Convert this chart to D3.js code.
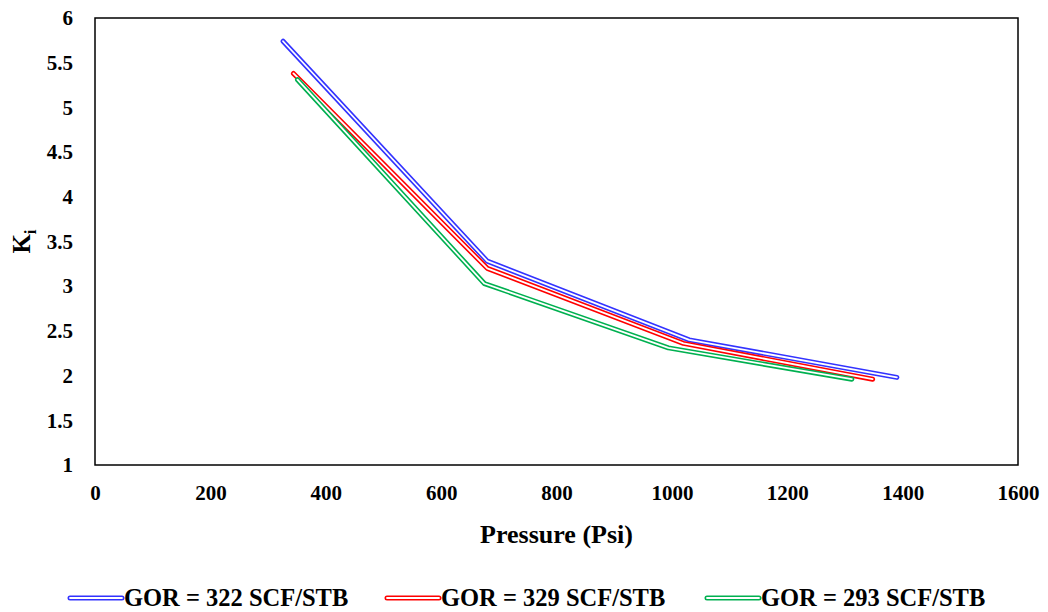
<!DOCTYPE html>
<html>
<head>
<meta charset="utf-8">
<script src="https://cdn.jsdelivr.net/npm/d3@7"></script>
<style>
  body { margin: 0; background: #fff; }
</style>
</head>
<body>
<div class="chart"></div>
<script>
// data
let pressure322 = [326, 680, 1030, 1390];
let ki322 = [5.74, 3.28, 2.40, 1.98];
let pressure329 = [344, 680, 1020, 1348];
let ki329 = [5.38, 3.20, 2.36, 1.96];
let pressure293 = [351, 675, 994, 1312];
let ki293 = [5.31, 3.03, 2.31, 1.96];

let seriesNames = ["GOR = 322 SCF/STB", "GOR = 329 SCF/STB", "GOR = 293 SCF/STB"];
let seriesColors = ["#3333ff", "#ff0000", "#00b050"];
let xTicks = [0, 200, 400, 600, 800, 1000, 1200, 1400, 1600];
let yTicks = [1, 1.5, 2, 2.5, 3, 3.5, 4, 4.5, 5, 5.5, 6];

let series = [
  pressure322.map((p, i) => ({p: p, k: ki322[i]})),
  pressure329.map((p, i) => ({p: p, k: ki329[i]})),
  pressure293.map((p, i) => ({p: p, k: ki293[i]}))
];

let font = "'Liberation Serif', 'Times New Roman', serif";

let margin = {top: 18, right: 30, bottom: 147, left: 95},
  width = 1048 - margin.left - margin.right,
  height = 612 - margin.top - margin.bottom;

let svg = d3.select(".chart")
  .append("svg")
  .attr("width", 1048)
  .attr("height", 612);

let g = svg.append("g")
  .attr("transform", "translate(" + margin.left + "," + margin.top + ")");

let x = d3.scaleLinear().domain([0, 1600]).range([0, width]);
let y = d3.scaleLinear().domain([1, 6]).range([height, 0]);

// plot frame
g.append("rect")
  .attr("x", 0).attr("y", 0)
  .attr("width", width).attr("height", height)
  .attr("fill", "none")
  .attr("stroke", "#000")
  .attr("stroke-width", 1.5);

// x axis labels
let xAxis = g.append("g")
  .attr("transform", "translate(0," + height + ")")
  .call(d3.axisBottom(x).tickValues(xTicks).tickSize(0).tickPadding(20).tickFormat(d3.format("d")));
xAxis.select(".domain").remove();
xAxis.attr("font-family", font).attr("font-size", 21).attr("font-weight", "bold");
xAxis.selectAll("text").attr("fill", "#000");

// y axis labels
let yAxis = g.append("g")
  .call(d3.axisLeft(y).tickValues(yTicks).tickSize(0).tickPadding(22).tickFormat(d => d));
yAxis.select(".domain").remove();
yAxis.attr("font-family", font).attr("font-size", 21).attr("font-weight", "bold");
yAxis.selectAll("text").attr("fill", "#000");

// axis titles
svg.append("text")
  .attr("x", margin.left + width / 2)
  .attr("y", 543)
  .attr("text-anchor", "middle")
  .attr("font-family", font)
  .attr("font-weight", "bold")
  .attr("font-size", 26)
  .text("Pressure (Psi)");

let yTitle = svg.append("text")
  .attr("transform", "translate(30," + (margin.top + height / 2) + ") rotate(-90)")
  .attr("text-anchor", "middle")
  .attr("font-family", font)
  .attr("font-weight", "bold")
  .attr("font-size", 25);
yTitle.append("tspan").text("K");
yTitle.append("tspan").attr("dy", 6).attr("font-size", 17).text("i");

// lines drawn as a coloured outline with a white core
let line = d3.line().x(d => x(d.p)).y(d => y(d.k));

series.forEach((s, i) => {
  g.append("path")
    .datum(s)
    .attr("d", line)
    .attr("fill", "none")
    .attr("stroke", seriesColors[i])
    .attr("stroke-width", 5)
    .attr("stroke-linecap", "round")
    .attr("stroke-linejoin", "round");
  g.append("path")
    .datum(s)
    .attr("d", line)
    .attr("fill", "none")
    .attr("stroke", "#fff")
    .attr("stroke-width", 1.8)
    .attr("stroke-linecap", "round")
    .attr("stroke-linejoin", "round");
});

// legend
let legendX = [70, 387, 707];
let legend = svg.selectAll(".legend")
  .data(seriesNames)
  .enter().append("g")
  .attr("class", "legend")
  .attr("transform", (d, i) => "translate(" + legendX[i] + ",598)");

legend.append("line")
  .attr("x1", 0).attr("x2", 52)
  .attr("stroke", (d, i) => seriesColors[i])
  .attr("stroke-width", 5)
  .attr("stroke-linecap", "round");
legend.append("line")
  .attr("x1", 0).attr("x2", 52)
  .attr("stroke", "#fff")
  .attr("stroke-width", 1.8)
  .attr("stroke-linecap", "round");
legend.append("text")
  .attr("x", 54)
  .attr("y", 8)
  .attr("font-family", font)
  .attr("font-weight", "bold")
  .attr("font-size", 24.5)
  .text(d => d);
</script>
</body>
</html>
